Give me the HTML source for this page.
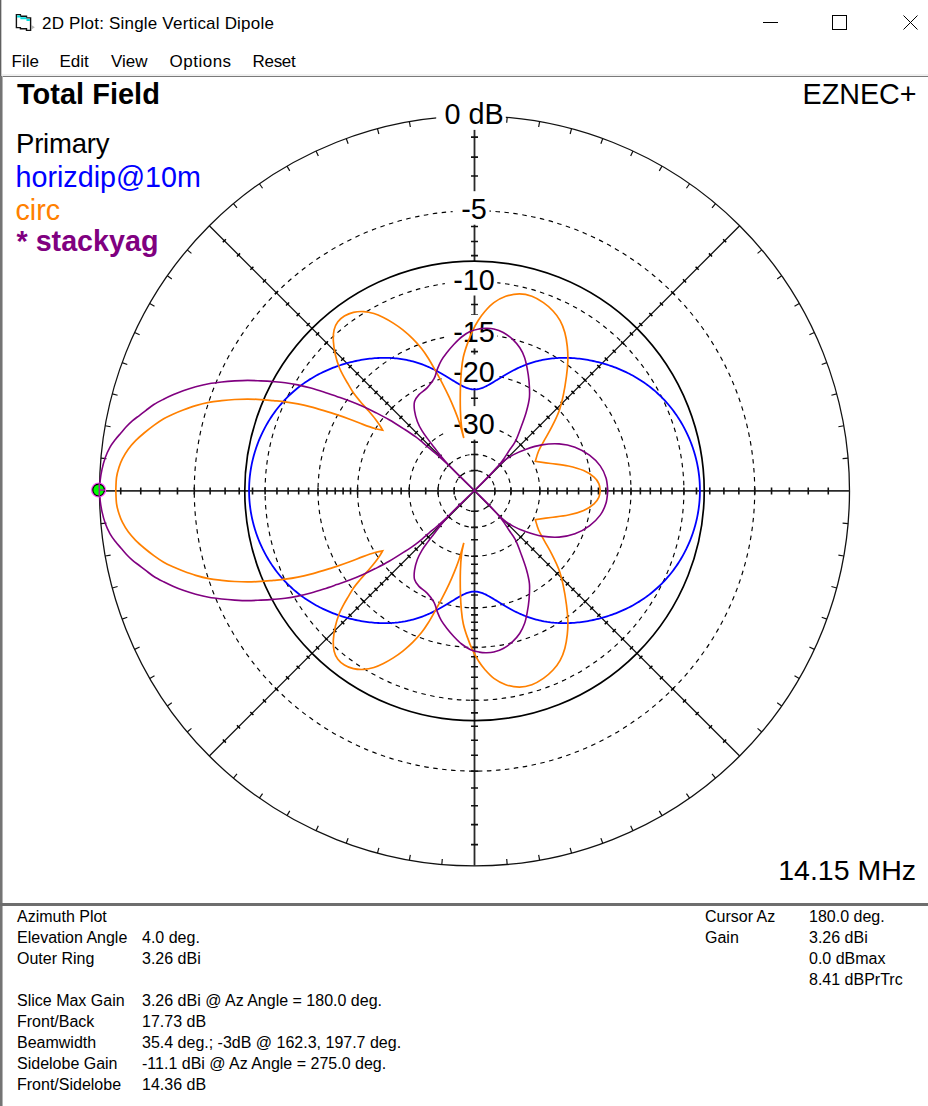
<!DOCTYPE html>
<html><head><meta charset="utf-8"><style>
html,body{margin:0;padding:0;background:#fff;}
body{width:928px;height:1106px;position:relative;overflow:hidden;font-family:"Liberation Sans",sans-serif;}
.t{position:absolute;white-space:nowrap;line-height:1;}
#lb{position:absolute;left:0;top:0;width:1px;height:1106px;background:#606060;border-right:1px solid #c8c8c8;}
#cb{position:absolute;left:0;top:76px;width:2px;height:1030px;background:#747474;border-right:1px solid #b4b4b4;}
#sep1{position:absolute;left:0;top:76px;width:928px;height:1px;background:#7a7a7a;}
#sep0{position:absolute;left:0;top:74px;width:928px;height:2px;background:#f0f0f0;}
#sep2{position:absolute;left:0;top:903px;width:928px;height:3px;background:#6e6e6e;}
svg{position:absolute;left:0;top:0;}
.info{font-size:16px;color:#000;}
</style></head><body>
<svg width="928" height="1106" viewBox="0 0 928 1106" font-family="Liberation Sans, sans-serif">
<circle cx="474.5" cy="490.9" r="280.22" fill="none" stroke="#000" stroke-width="1.15" stroke-dasharray="4.5 4.5"/>
<circle cx="474.5" cy="490.9" r="209.40" fill="none" stroke="#000" stroke-width="1.15" stroke-dasharray="4.5 4.5"/>
<circle cx="474.5" cy="490.9" r="156.48" fill="none" stroke="#000" stroke-width="1.15" stroke-dasharray="4.5 4.5"/>
<circle cx="474.5" cy="490.9" r="116.93" fill="none" stroke="#000" stroke-width="1.15" stroke-dasharray="4.5 4.5"/>
<circle cx="474.5" cy="490.9" r="65.30" fill="none" stroke="#000" stroke-width="1.15" stroke-dasharray="4.5 4.5"/>
<circle cx="474.5" cy="490.9" r="36.46" fill="none" stroke="#000" stroke-width="1.15" stroke-dasharray="4.5 4.5"/>
<circle cx="474.5" cy="490.9" r="20.36" fill="none" stroke="#000" stroke-width="1.15" stroke-dasharray="4.5 4.5"/>
<circle cx="474.5" cy="490.9" r="375.0" fill="none" stroke="#111" stroke-width="1.3"/>
<path d="M848.07 458.22L842.59 458.70M843.80 425.78L838.39 426.74M836.72 393.84L831.41 395.27M826.88 362.64L821.72 364.52M814.37 332.42L809.38 334.74M799.26 303.40L794.50 306.15M781.68 275.81L777.18 278.96M761.77 249.85L757.55 253.39M715.55 203.63L712.01 207.85M689.59 183.72L686.44 188.22M662.00 166.14L659.25 170.90M632.98 151.03L630.66 156.02M602.76 138.52L600.88 143.68M571.56 128.68L570.13 133.99M539.62 121.60L538.66 127.01M507.18 117.33L506.70 122.81M441.82 117.33L442.30 122.81M409.38 121.60L410.34 127.01M377.44 128.68L378.87 133.99M346.24 138.52L348.12 143.68M316.02 151.03L318.34 156.02M287.00 166.14L289.75 170.90M259.41 183.72L262.56 188.22M233.45 203.63L236.99 207.85M187.23 249.85L191.45 253.39M167.32 275.81L171.82 278.96M149.74 303.40L154.50 306.15M134.63 332.42L139.62 334.74M122.12 362.64L127.28 364.52M112.28 393.84L117.59 395.27M105.20 425.78L110.61 426.74M100.93 458.22L106.41 458.70M100.93 523.58L106.41 523.10M105.20 556.02L110.61 555.06M112.28 587.96L117.59 586.53M122.12 619.16L127.28 617.28M134.63 649.38L139.62 647.06M149.74 678.40L154.50 675.65M167.32 705.99L171.82 702.84M187.23 731.95L191.45 728.41M233.45 778.17L236.99 773.95M259.41 798.08L262.56 793.58M287.00 815.66L289.75 810.90M316.02 830.77L318.34 825.78M346.24 843.28L348.12 838.12M377.44 853.12L378.87 847.81M409.38 860.20L410.34 854.79M441.82 864.47L442.30 858.99M507.18 864.47L506.70 858.99M539.62 860.20L538.66 854.79M571.56 853.12L570.13 847.81M602.76 843.28L600.88 838.12M632.98 830.77L630.66 825.78M662.00 815.66L659.25 810.90M689.59 798.08L686.44 793.58M715.55 778.17L712.01 773.95M761.77 731.95L757.55 728.41M781.68 705.99L777.18 702.84M799.26 678.40L794.50 675.65M814.37 649.38L809.38 647.06M826.88 619.16L821.72 617.28M836.72 587.96L831.41 586.53M843.80 556.02L838.39 555.06M848.07 523.58L842.59 523.10" stroke="#111" stroke-width="1.2" fill="none"/>
<path d="M739.67 225.73L209.33 756.07M209.33 225.73L739.67 756.07" stroke="#111" stroke-width="1.3" fill="none"/>
<path d="M99.5 490.9H849.5M474.5 115.89999999999998V865.9" stroke="#2a2a2a" stroke-width="1.8" fill="none"/>
<path d="M828.27 487.40L828.27 494.40M471.00 137.13L478.00 137.13M120.73 494.40L120.73 487.40M478.00 844.67L471.00 844.67M808.25 487.40L808.25 494.40M471.00 157.15L478.00 157.15M140.75 494.40L140.75 487.40M478.00 824.65L471.00 824.65M789.36 487.40L789.36 494.40M471.00 176.04L478.00 176.04M159.64 494.40L159.64 487.40M478.00 805.76L471.00 805.76M771.54 487.40L771.54 494.40M471.00 193.86L478.00 193.86M177.46 494.40L177.46 487.40M478.00 787.94L471.00 787.94M754.72 487.40L754.72 494.40M471.00 210.68L478.00 210.68M194.28 494.40L194.28 487.40M478.00 771.12L471.00 771.12M738.86 487.40L738.86 494.40M471.00 226.54L478.00 226.54M210.14 494.40L210.14 487.40M478.00 755.26L471.00 755.26M723.90 487.40L723.90 494.40M471.00 241.50L478.00 241.50M225.10 494.40L225.10 487.40M478.00 740.30L471.00 740.30M709.78 487.40L709.78 494.40M471.00 255.62L478.00 255.62M239.22 494.40L239.22 487.40M478.00 726.18L471.00 726.18M696.47 487.40L696.47 494.40M471.00 268.93L478.00 268.93M252.53 494.40L252.53 487.40M478.00 712.87L471.00 712.87M683.90 487.40L683.90 494.40M471.00 281.50L478.00 281.50M265.10 494.40L265.10 487.40M478.00 700.30L471.00 700.30M672.05 487.40L672.05 494.40M471.00 293.35L478.00 293.35M276.95 494.40L276.95 487.40M478.00 688.45L471.00 688.45M660.87 487.40L660.87 494.40M471.00 304.53L478.00 304.53M288.13 494.40L288.13 487.40M478.00 677.27L471.00 677.27M650.32 487.40L650.32 494.40M471.00 315.08L478.00 315.08M298.68 494.40L298.68 487.40M478.00 666.72L471.00 666.72M640.37 487.40L640.37 494.40M471.00 325.03L478.00 325.03M308.63 494.40L308.63 487.40M478.00 656.77L471.00 656.77M630.98 487.40L630.98 494.40M471.00 334.42L478.00 334.42M318.02 494.40L318.02 487.40M478.00 647.38L471.00 647.38M622.12 487.40L622.12 494.40M471.00 343.28L478.00 343.28M326.88 494.40L326.88 487.40M478.00 638.52L471.00 638.52M613.77 487.40L613.77 494.40M471.00 351.63L478.00 351.63M335.23 494.40L335.23 487.40M478.00 630.17L471.00 630.17M605.88 487.40L605.88 494.40M471.00 359.52L478.00 359.52M343.12 494.40L343.12 487.40M478.00 622.28L471.00 622.28M598.45 487.40L598.45 494.40M471.00 366.95L478.00 366.95M350.55 494.40L350.55 487.40M478.00 614.85L471.00 614.85M591.43 487.40L591.43 494.40M471.00 373.97L478.00 373.97M357.57 494.40L357.57 487.40M478.00 607.83L471.00 607.83M578.57 487.40L578.57 494.40M471.00 386.83L478.00 386.83M370.43 494.40L370.43 487.40M478.00 594.97L471.00 594.97M567.12 487.40L567.12 494.40M471.00 398.28L478.00 398.28M381.88 494.40L381.88 487.40M478.00 583.52L471.00 583.52M556.93 487.40L556.93 494.40M471.00 408.47L478.00 408.47M392.07 494.40L392.07 487.40M478.00 573.33L471.00 573.33M547.87 487.40L547.87 494.40M471.00 417.53L478.00 417.53M401.13 494.40L401.13 487.40M478.00 564.27L471.00 564.27M539.80 487.40L539.80 494.40M471.00 425.60L478.00 425.60M409.20 494.40L409.20 487.40M478.00 556.20L471.00 556.20M523.29 487.40L523.29 494.40M471.00 442.11L478.00 442.11M425.71 494.40L425.71 487.40M478.00 539.69L471.00 539.69M510.96 487.40L510.96 494.40M471.00 454.44L478.00 454.44M438.04 494.40L438.04 487.40M478.00 527.36L471.00 527.36M494.86 487.40L494.86 494.40M471.00 470.54L478.00 470.54M454.14 494.40L454.14 487.40M478.00 511.26L471.00 511.26" stroke="#111" stroke-width="1.6" fill="none"/>
<path d="M723.10 239.19L726.21 242.30M222.79 242.30L225.90 239.19M225.90 742.61L222.79 739.50M726.21 739.50L723.10 742.61M708.94 253.35L712.05 256.46M236.95 256.46L240.06 253.35M240.06 728.45L236.95 725.34M712.05 725.34L708.94 728.45M695.58 266.71L698.69 269.82M250.31 269.82L253.42 266.71M253.42 715.09L250.31 711.98M698.69 711.98L695.58 715.09M682.98 279.31L686.09 282.42M262.91 282.42L266.02 279.31M266.02 702.49L262.91 699.38M686.09 699.38L682.98 702.49M671.09 291.20L674.20 294.31M274.80 294.31L277.91 291.20M277.91 690.60L274.80 687.49M674.20 687.49L671.09 690.60M659.88 302.41L662.99 305.52M286.01 305.52L289.12 302.41M289.12 679.39L286.01 676.28M662.99 676.28L659.88 679.39M649.30 312.99L652.41 316.10M296.59 316.10L299.70 312.99M299.70 668.81L296.59 665.70M652.41 665.70L649.30 668.81M639.31 322.97L642.43 326.09M306.57 326.09L309.69 322.97M309.69 658.83L306.57 655.71M642.43 655.71L639.31 658.83M629.90 332.39L633.01 335.50M315.99 335.50L319.10 332.39M319.10 649.41L315.99 646.30M633.01 646.30L629.90 649.41M621.01 341.27L624.13 344.39M324.87 344.39L327.99 341.27M327.99 640.53L324.87 637.41M624.13 637.41L621.01 640.53M612.63 349.66L615.74 352.77M333.26 352.77L336.37 349.66M336.37 632.14L333.26 629.03M615.74 629.03L612.63 632.14M604.73 357.56L607.84 360.67M341.16 360.67L344.27 357.56M344.27 624.24L341.16 621.13M607.84 621.13L604.73 624.24M597.27 365.02L600.38 368.13M348.62 368.13L351.73 365.02M351.73 616.78L348.62 613.67M600.38 613.67L597.27 616.78M590.23 372.06L593.34 375.17M355.66 375.17L358.77 372.06M358.77 609.74L355.66 606.63M593.34 606.63L590.23 609.74M583.59 378.70L586.70 381.81M362.30 381.81L365.41 378.70M365.41 603.10L362.30 599.99M586.70 599.99L583.59 603.10M577.33 384.96L580.44 388.07M368.56 388.07L371.67 384.96M371.67 596.84L368.56 593.73M580.44 593.73L577.33 596.84M571.42 390.87L574.53 393.98M374.47 393.98L377.58 390.87M377.58 590.93L374.47 587.82M574.53 587.82L571.42 590.93M565.85 396.44L568.96 399.55M380.04 399.55L383.15 396.44M383.15 585.36L380.04 582.25M568.96 582.25L565.85 585.36M560.59 401.70L563.70 404.81M385.30 404.81L388.41 401.70M388.41 580.10L385.30 576.99M563.70 576.99L560.59 580.10M555.63 406.66L558.74 409.77M390.26 409.77L393.37 406.66M393.37 575.14L390.26 572.03M558.74 572.03L555.63 575.14M546.53 415.76L549.64 418.87M399.36 418.87L402.47 415.76M402.47 566.04L399.36 562.93M549.64 562.93L546.53 566.04M538.44 423.85L541.55 426.96M407.45 426.96L410.56 423.85M410.56 557.95L407.45 554.84M541.55 554.84L538.44 557.95M531.23 431.06L534.34 434.17M414.66 434.17L417.77 431.06M417.77 550.74L414.66 547.63M534.34 547.63L531.23 550.74M524.82 437.47L527.93 440.58M421.07 440.58L424.18 437.47M424.18 544.33L421.07 541.22M527.93 541.22L524.82 544.33M519.12 443.17L522.23 446.28M426.77 446.28L429.88 443.17M429.88 538.63L426.77 535.52M522.23 535.52L519.12 538.63M507.45 454.84L510.56 457.95M438.44 457.95L441.55 454.84M441.55 526.96L438.44 523.85M510.56 523.85L507.45 526.96M498.73 463.56L501.84 466.67M447.16 466.67L450.27 463.56M450.27 518.24L447.16 515.13M501.84 515.13L498.73 518.24M487.34 474.95L490.45 478.06M458.55 478.06L461.66 474.95M461.66 506.85L458.55 503.74M490.45 503.74L487.34 506.85" stroke="#000" stroke-width="1.5" fill="none"/>
<rect x="436.2" y="96.4" width="69.6" height="33.5" fill="#fff"/>
<text x="474" y="123.9" text-anchor="middle" font-size="28.8" fill="#000">0 dB</text>
<rect x="452.6" y="191.2" width="36.9" height="33.5" fill="#fff"/>
<text x="474" y="218.7" text-anchor="middle" font-size="28.8" fill="#000">-5</text>
<rect x="444.8" y="262.0" width="52.5" height="33.5" fill="#fff"/>
<text x="474" y="289.5" text-anchor="middle" font-size="28.8" fill="#000">-10</text>
<rect x="444.8" y="314.9" width="52.5" height="33.5" fill="#fff"/>
<text x="474" y="342.4" text-anchor="middle" font-size="28.8" fill="#000">-15</text>
<rect x="444.8" y="354.5" width="52.5" height="33.5" fill="#fff"/>
<text x="474" y="382.0" text-anchor="middle" font-size="28.8" fill="#000">-20</text>
<rect x="444.8" y="406.1" width="52.5" height="33.5" fill="#fff"/>
<text x="474" y="433.6" text-anchor="middle" font-size="28.8" fill="#000">-30</text>
<circle cx="474.5" cy="490.9" r="229.73" fill="none" stroke="#000" stroke-width="1.7"/>
<path d="M699.92 490.50L699.91 488.53L699.86 486.57L699.79 484.60L699.69 482.64L699.55 480.67L699.39 478.71L699.20 476.76L698.98 474.80L698.73 472.85L698.45 470.91L698.14 468.97L697.80 467.03L697.44 465.10L697.05 463.17L696.62 461.26L696.18 459.35L695.70 457.44L695.19 455.55L694.66 453.66L694.10 451.78L693.51 449.91L692.90 448.05L692.26 446.20L691.59 444.36L690.90 442.53L690.18 440.71L689.43 438.90L688.66 437.10L687.87 435.32L687.04 433.55L686.20 431.79L685.32 430.05L684.43 428.32L683.51 426.60L682.56 424.90L681.59 423.21L680.60 421.54L679.58 419.88L678.54 418.25L677.48 416.62L676.39 415.02L675.28 413.43L674.14 411.86L672.99 410.31L671.81 408.77L670.61 407.26L669.39 405.76L668.14 404.29L666.88 402.83L665.59 401.39L664.28 399.98L662.95 398.59L661.60 397.21L660.24 395.86L658.85 394.53L657.44 393.23L656.01 391.95L654.57 390.69L653.11 389.45L651.63 388.23L650.13 387.04L648.62 385.88L647.09 384.74L645.54 383.62L643.99 382.53L642.41 381.46L640.82 380.41L639.22 379.39L637.61 378.40L635.98 377.43L634.34 376.48L632.70 375.56L631.04 374.67L629.37 373.80L627.69 372.95L626.01 372.13L624.31 371.33L622.61 370.56L620.91 369.81L619.19 369.09L617.48 368.39L615.75 367.71L614.03 367.06L612.30 366.43L610.56 365.82L608.83 365.24L607.09 364.68L605.35 364.14L603.61 363.63L601.87 363.13L600.13 362.66L598.38 362.21L596.64 361.79L594.90 361.38L593.16 361.00L591.43 360.64L589.69 360.30L587.96 359.98L586.22 359.69L584.49 359.41L582.77 359.16L581.04 358.93L579.32 358.72L577.60 358.53L575.89 358.37L574.18 358.22L572.47 358.10L570.77 358.00L569.06 357.93L567.37 357.87L565.67 357.84L563.98 357.84L562.30 357.85L560.62 357.89L558.94 357.96L557.27 358.04L555.60 358.16L553.94 358.29L552.28 358.46L550.63 358.64L548.98 358.86L547.34 359.09L545.71 359.36L544.08 359.64L542.46 359.96L540.84 360.30L539.24 360.66L537.64 361.05L536.05 361.46L534.47 361.90L532.90 362.36L531.33 362.85L529.78 363.36L528.24 363.89L526.71 364.45L525.20 365.02L523.69 365.62L522.20 366.23L520.72 366.87L519.26 367.52L517.81 368.19L516.38 368.87L514.96 369.57L513.56 370.28L512.18 371.00L510.81 371.73L509.46 372.47L508.13 373.21L506.82 373.96L505.52 374.72L504.25 375.47L502.99 376.22L501.76 376.97L500.54 377.72L499.34 378.46L498.16 379.19L497.00 379.90L495.86 380.61L494.74 381.30L493.64 381.98L492.55 382.63L491.48 383.27L490.43 383.88L489.40 384.47L488.38 385.04L487.38 385.57L486.40 386.08L485.42 386.56L484.47 387.00L483.52 387.41L482.58 387.79L481.66 388.12L480.74 388.43L479.84 388.69L478.94 388.91L478.04 389.10L477.15 389.24L476.27 389.34L475.38 389.41L474.50 389.43L473.62 389.41L472.73 389.34L471.85 389.24L470.96 389.10L470.06 388.91L469.16 388.69L468.26 388.43L467.34 388.12L466.42 387.79L465.48 387.41L464.53 387.00L463.58 386.56L462.60 386.08L461.62 385.57L460.62 385.04L459.60 384.47L458.57 383.88L457.52 383.27L456.45 382.63L455.36 381.98L454.26 381.30L453.14 380.61L452.00 379.90L450.84 379.19L449.66 378.46L448.46 377.72L447.24 376.97L446.01 376.22L444.75 375.47L443.48 374.72L442.18 373.96L440.87 373.21L439.54 372.47L438.19 371.73L436.82 371.00L435.44 370.28L434.04 369.57L432.62 368.87L431.19 368.19L429.74 367.52L428.28 366.87L426.80 366.23L425.31 365.62L423.80 365.02L422.29 364.45L420.76 363.89L419.22 363.36L417.67 362.85L416.10 362.36L414.53 361.90L412.95 361.46L411.36 361.05L409.76 360.66L408.16 360.30L406.54 359.96L404.92 359.64L403.29 359.36L401.66 359.09L400.02 358.86L398.37 358.64L396.72 358.46L395.06 358.29L393.40 358.16L391.73 358.04L390.06 357.96L388.38 357.89L386.70 357.85L385.02 357.84L383.33 357.84L381.63 357.87L379.94 357.93L378.23 358.00L376.53 358.10L374.82 358.22L373.11 358.37L371.40 358.53L369.68 358.72L367.96 358.93L366.23 359.16L364.51 359.41L362.78 359.69L361.04 359.98L359.31 360.30L357.57 360.64L355.84 361.00L354.10 361.38L352.36 361.79L350.62 362.21L348.87 362.66L347.13 363.13L345.39 363.63L343.65 364.14L341.91 364.68L340.17 365.24L338.44 365.82L336.70 366.43L334.97 367.06L333.25 367.71L331.52 368.39L329.81 369.09L328.09 369.81L326.39 370.56L324.69 371.33L322.99 372.13L321.31 372.95L319.63 373.80L317.96 374.67L316.30 375.56L314.66 376.48L313.02 377.43L311.39 378.40L309.78 379.39L308.18 380.41L306.59 381.46L305.01 382.53L303.46 383.62L301.91 384.74L300.38 385.88L298.87 387.04L297.37 388.23L295.89 389.45L294.43 390.69L292.99 391.95L291.56 393.23L290.15 394.53L288.76 395.86L287.40 397.21L286.05 398.59L284.72 399.98L283.41 401.39L282.12 402.83L280.86 404.29L279.61 405.76L278.39 407.26L277.19 408.77L276.01 410.31L274.86 411.86L273.72 413.43L272.61 415.02L271.52 416.62L270.46 418.25L269.42 419.88L268.40 421.54L267.41 423.21L266.44 424.90L265.49 426.60L264.57 428.32L263.68 430.05L262.80 431.79L261.96 433.55L261.13 435.32L260.34 437.10L259.57 438.90L258.82 440.71L258.10 442.53L257.41 444.36L256.74 446.20L256.10 448.05L255.49 449.91L254.90 451.78L254.34 453.66L253.81 455.55L253.30 457.44L252.82 459.35L252.38 461.26L251.95 463.17L251.56 465.10L251.20 467.03L250.86 468.97L250.55 470.91L250.27 472.85L250.02 474.80L249.80 476.76L249.61 478.71L249.45 480.67L249.31 482.64L249.21 484.60L249.14 486.57L249.09 488.53L249.08 490.50L249.09 492.47L249.14 494.43L249.21 496.40L249.31 498.36L249.45 500.33L249.61 502.29L249.80 504.24L250.02 506.20L250.27 508.15L250.55 510.09L250.86 512.03L251.20 513.97L251.56 515.90L251.95 517.83L252.38 519.74L252.82 521.65L253.30 523.56L253.81 525.45L254.34 527.34L254.90 529.22L255.49 531.09L256.10 532.95L256.74 534.80L257.41 536.64L258.10 538.47L258.82 540.29L259.57 542.10L260.34 543.90L261.13 545.68L261.96 547.45L262.80 549.21L263.68 550.95L264.57 552.68L265.49 554.40L266.44 556.10L267.41 557.79L268.40 559.46L269.42 561.12L270.46 562.75L271.52 564.38L272.61 565.98L273.72 567.57L274.86 569.14L276.01 570.69L277.19 572.23L278.39 573.74L279.61 575.24L280.86 576.71L282.12 578.17L283.41 579.61L284.72 581.02L286.05 582.41L287.40 583.79L288.76 585.14L290.15 586.47L291.56 587.77L292.99 589.05L294.43 590.31L295.89 591.55L297.37 592.77L298.87 593.96L300.38 595.12L301.91 596.26L303.46 597.38L305.01 598.47L306.59 599.54L308.18 600.59L309.78 601.61L311.39 602.60L313.02 603.57L314.66 604.52L316.30 605.44L317.96 606.33L319.63 607.20L321.31 608.05L322.99 608.87L324.69 609.67L326.39 610.44L328.09 611.19L329.81 611.91L331.52 612.61L333.25 613.29L334.97 613.94L336.70 614.57L338.44 615.18L340.17 615.76L341.91 616.32L343.65 616.86L345.39 617.37L347.13 617.87L348.87 618.34L350.62 618.79L352.36 619.21L354.10 619.62L355.84 620.00L357.57 620.36L359.31 620.70L361.04 621.02L362.78 621.31L364.51 621.59L366.23 621.84L367.96 622.07L369.68 622.28L371.40 622.47L373.11 622.63L374.82 622.78L376.53 622.90L378.23 623.00L379.94 623.07L381.63 623.13L383.33 623.16L385.02 623.16L386.70 623.15L388.38 623.11L390.06 623.04L391.73 622.96L393.40 622.84L395.06 622.71L396.72 622.54L398.37 622.36L400.02 622.14L401.66 621.91L403.29 621.64L404.92 621.36L406.54 621.04L408.16 620.70L409.76 620.34L411.36 619.95L412.95 619.54L414.53 619.10L416.10 618.64L417.67 618.15L419.22 617.64L420.76 617.11L422.29 616.55L423.80 615.98L425.31 615.38L426.80 614.77L428.28 614.13L429.74 613.48L431.19 612.81L432.62 612.13L434.04 611.43L435.44 610.72L436.82 610.00L438.19 609.27L439.54 608.53L440.87 607.79L442.18 607.04L443.48 606.28L444.75 605.53L446.01 604.78L447.24 604.03L448.46 603.28L449.66 602.54L450.84 601.81L452.00 601.10L453.14 600.39L454.26 599.70L455.36 599.02L456.45 598.37L457.52 597.73L458.57 597.12L459.60 596.53L460.62 595.96L461.62 595.43L462.60 594.92L463.58 594.44L464.53 594.00L465.48 593.59L466.42 593.21L467.34 592.88L468.26 592.57L469.16 592.31L470.06 592.09L470.96 591.90L471.85 591.76L472.73 591.66L473.62 591.59L474.50 591.57L475.38 591.59L476.27 591.66L477.15 591.76L478.04 591.90L478.94 592.09L479.84 592.31L480.74 592.57L481.66 592.88L482.58 593.21L483.52 593.59L484.47 594.00L485.42 594.44L486.40 594.92L487.38 595.43L488.38 595.96L489.40 596.53L490.43 597.12L491.48 597.73L492.55 598.37L493.64 599.02L494.74 599.70L495.86 600.39L497.00 601.10L498.16 601.81L499.34 602.54L500.54 603.28L501.76 604.03L502.99 604.78L504.25 605.53L505.52 606.28L506.82 607.04L508.13 607.79L509.46 608.53L510.81 609.27L512.18 610.00L513.56 610.72L514.96 611.43L516.38 612.13L517.81 612.81L519.26 613.48L520.72 614.13L522.20 614.77L523.69 615.38L525.20 615.98L526.71 616.55L528.24 617.11L529.78 617.64L531.33 618.15L532.90 618.64L534.47 619.10L536.05 619.54L537.64 619.95L539.24 620.34L540.84 620.70L542.46 621.04L544.08 621.36L545.71 621.64L547.34 621.91L548.98 622.14L550.63 622.36L552.28 622.54L553.94 622.71L555.60 622.84L557.27 622.96L558.94 623.04L560.62 623.11L562.30 623.15L563.98 623.16L565.67 623.16L567.37 623.13L569.06 623.07L570.77 623.00L572.47 622.90L574.18 622.78L575.89 622.63L577.60 622.47L579.32 622.28L581.04 622.07L582.77 621.84L584.49 621.59L586.22 621.31L587.96 621.02L589.69 620.70L591.43 620.36L593.16 620.00L594.90 619.62L596.64 619.21L598.38 618.79L600.13 618.34L601.87 617.87L603.61 617.37L605.35 616.86L607.09 616.32L608.83 615.76L610.56 615.18L612.30 614.57L614.03 613.94L615.75 613.29L617.48 612.61L619.19 611.91L620.91 611.19L622.61 610.44L624.31 609.67L626.01 608.87L627.69 608.05L629.37 607.20L631.04 606.33L632.70 605.44L634.34 604.52L635.98 603.57L637.61 602.60L639.22 601.61L640.82 600.59L642.41 599.54L643.99 598.47L645.54 597.38L647.09 596.26L648.62 595.12L650.13 593.96L651.63 592.77L653.11 591.55L654.57 590.31L656.01 589.05L657.44 587.77L658.85 586.47L660.24 585.14L661.60 583.79L662.95 582.41L664.28 581.02L665.59 579.61L666.88 578.17L668.14 576.71L669.39 575.24L670.61 573.74L671.81 572.23L672.99 570.69L674.14 569.14L675.28 567.57L676.39 565.98L677.48 564.38L678.54 562.75L679.58 561.12L680.60 559.46L681.59 557.79L682.56 556.10L683.51 554.40L684.43 552.68L685.32 550.95L686.20 549.21L687.04 547.45L687.87 545.68L688.66 543.90L689.43 542.10L690.18 540.29L690.90 538.47L691.59 536.64L692.26 534.80L692.90 532.95L693.51 531.09L694.10 529.22L694.66 527.34L695.19 525.45L695.70 523.56L696.18 521.65L696.62 519.74L697.05 517.83L697.44 515.90L697.80 513.97L698.14 512.03L698.45 510.09L698.73 508.15L698.98 506.20L699.20 504.24L699.39 502.29L699.55 500.33L699.69 498.36L699.79 496.40L699.86 494.43L699.91 492.47Z" fill="none" stroke="#0000ff" stroke-width="1.8"/>
<path d="M600.20 490.50C599.97 489.36 599.85 485.86 598.82 483.64C597.80 481.43 596.60 479.38 594.07 477.20C591.54 475.02 587.94 472.45 583.65 470.58C579.36 468.71 573.79 467.15 568.33 465.97C562.86 464.79 556.38 464.24 550.87 463.48C545.37 462.72 537.90 461.75 535.30 461.40C535.85 459.67 537.08 454.54 538.60 450.99C540.12 447.45 542.17 444.22 544.41 440.13C546.64 436.05 549.59 431.31 552.03 426.46C554.48 421.60 557.22 416.14 559.08 411.00C560.94 405.87 561.98 401.42 563.21 395.63C564.44 389.83 565.68 382.10 566.46 376.25C567.23 370.40 567.73 365.50 567.86 360.53C568.00 355.56 567.78 351.10 567.27 346.43C566.76 341.75 566.01 336.80 564.82 332.50C563.63 328.20 562.11 324.21 560.14 320.62C558.18 317.03 555.82 313.96 553.03 310.97C550.25 307.97 546.95 305.10 543.42 302.66C539.89 300.22 535.85 297.77 531.86 296.31C527.86 294.85 523.80 293.90 519.45 293.90C515.09 293.90 510.01 294.85 505.74 296.31C501.48 297.77 497.27 300.22 493.86 302.67C490.44 305.13 487.81 308.13 485.23 311.06C482.65 314.00 480.48 317.01 478.37 320.29C476.26 323.58 474.46 326.77 472.59 330.78C470.72 334.79 468.71 339.94 467.15 344.36C465.60 348.77 464.24 352.86 463.28 357.27C462.31 361.68 461.85 365.62 461.37 370.82C460.89 376.02 460.56 381.94 460.40 388.46C460.23 394.97 460.19 403.47 460.38 409.89C460.57 416.31 460.98 422.27 461.55 426.97C462.12 431.68 463.43 436.25 463.80 438.10C463.05 435.47 460.80 427.02 459.27 422.32C457.75 417.62 456.36 414.15 454.66 409.91C452.95 405.67 451.12 401.31 449.06 396.87C447.01 392.44 444.65 387.77 442.34 383.31C440.02 378.85 437.51 374.32 435.17 370.13C432.82 365.95 430.53 361.78 428.28 358.20C426.04 354.62 424.27 351.91 421.71 348.68C419.14 345.45 416.03 341.97 412.89 338.83C409.74 335.70 406.11 332.48 402.85 329.86C399.58 327.24 396.51 325.16 393.28 323.10C390.04 321.05 386.65 319.12 383.43 317.52C380.20 315.92 377.21 314.51 373.94 313.52C370.66 312.53 367.18 311.76 363.76 311.57C360.34 311.37 356.63 311.59 353.40 312.34C350.18 313.09 347.00 314.49 344.40 316.08C341.81 317.66 339.56 319.55 337.84 321.85C336.12 324.15 334.84 326.65 334.09 329.90C333.34 333.14 333.16 337.21 333.36 341.31C333.57 345.41 334.36 350.20 335.31 354.49C336.27 358.78 337.73 363.44 339.09 367.06C340.46 370.67 341.97 373.29 343.51 376.18C345.05 379.07 346.63 381.58 348.31 384.39C349.98 387.20 351.59 390.25 353.55 393.05C355.51 395.85 357.68 398.36 360.06 401.20C362.45 404.05 365.30 407.11 367.86 410.12C370.43 413.12 373.33 416.49 375.44 419.23C377.55 421.96 379.32 424.70 380.51 426.51C381.70 428.33 382.25 429.50 382.60 430.10C381.32 429.84 378.21 429.48 374.93 428.52C371.65 427.56 367.11 425.92 362.91 424.36C358.71 422.81 354.08 420.81 349.72 419.19C345.35 417.56 341.03 416.04 336.71 414.61C332.39 413.18 328.11 411.91 323.80 410.63C319.50 409.35 315.20 408.04 310.88 406.92C306.55 405.79 302.13 404.72 297.85 403.87C293.57 403.01 289.30 402.33 285.20 401.79C281.11 401.25 277.39 401.02 273.28 400.64C269.18 400.27 264.86 399.81 260.58 399.55C256.30 399.29 251.93 399.09 247.61 399.09C243.29 399.08 239.00 399.25 234.68 399.52C230.37 399.78 226.03 400.19 221.72 400.67C217.40 401.15 213.12 401.56 208.78 402.39C204.45 403.22 200.00 404.37 195.72 405.64C191.45 406.90 186.95 408.56 183.16 409.98C179.36 411.41 176.21 412.70 172.97 414.16C169.72 415.63 166.87 416.89 163.69 418.76C160.50 420.64 157.05 423.07 153.85 425.40C150.64 427.73 147.48 430.22 144.44 432.76C141.41 435.31 138.31 437.93 135.61 440.66C132.91 443.40 130.42 446.19 128.23 449.17C126.05 452.16 124.05 455.59 122.51 458.59C120.97 461.60 120.00 464.07 119.01 467.21C118.01 470.35 117.06 473.54 116.53 477.42C115.99 481.30 115.92 488.32 115.80 490.50C115.92 492.68 115.99 499.70 116.53 503.58C117.06 507.46 118.01 510.65 119.01 513.79C120.00 516.93 120.97 519.40 122.51 522.41C124.05 525.41 126.05 528.84 128.23 531.83C130.42 534.81 132.91 537.60 135.61 540.34C138.31 543.07 141.41 545.69 144.44 548.24C147.48 550.78 150.64 553.27 153.85 555.60C157.05 557.93 160.50 560.36 163.69 562.24C166.87 564.11 169.72 565.37 172.97 566.84C176.21 568.30 179.36 569.59 183.16 571.02C186.95 572.44 191.45 574.10 195.72 575.36C200.00 576.63 204.45 577.78 208.78 578.61C213.12 579.44 217.40 579.85 221.72 580.33C226.03 580.81 230.37 581.22 234.68 581.48C239.00 581.75 243.29 581.92 247.61 581.91C251.93 581.91 256.30 581.71 260.58 581.45C264.86 581.19 269.18 580.73 273.28 580.36C277.39 579.98 281.11 579.75 285.20 579.21C289.30 578.67 293.57 577.99 297.85 577.13C302.13 576.28 306.55 575.21 310.88 574.08C315.20 572.96 319.50 571.65 323.80 570.37C328.11 569.09 332.39 567.82 336.71 566.39C341.03 564.96 345.35 563.44 349.72 561.81C354.08 560.19 358.71 558.19 362.91 556.64C367.11 555.08 371.65 553.44 374.93 552.48C378.21 551.52 381.32 551.16 382.60 550.90C382.25 551.50 381.70 552.67 380.51 554.49C379.32 556.30 377.55 559.04 375.44 561.77C373.33 564.51 370.43 567.88 367.86 570.88C365.30 573.89 362.45 576.95 360.06 579.80C357.68 582.64 355.51 585.15 353.55 587.95C351.59 590.75 349.98 593.80 348.31 596.61C346.63 599.42 345.05 601.93 343.51 604.82C341.97 607.71 340.46 610.33 339.09 613.94C337.73 617.56 336.27 622.22 335.31 626.51C334.36 630.80 333.57 635.59 333.36 639.69C333.16 643.79 333.34 647.86 334.09 651.10C334.84 654.35 336.12 656.85 337.84 659.15C339.56 661.45 341.81 663.34 344.40 664.92C347.00 666.51 350.18 667.91 353.40 668.66C356.63 669.41 360.34 669.63 363.76 669.43C367.18 669.24 370.66 668.47 373.94 667.48C377.21 666.49 380.20 665.08 383.43 663.48C386.65 661.88 390.04 659.95 393.28 657.90C396.51 655.84 399.58 653.76 402.85 651.14C406.11 648.52 409.74 645.30 412.89 642.17C416.03 639.03 419.14 635.55 421.71 632.32C424.27 629.09 426.04 626.38 428.28 622.80C430.53 619.22 432.82 615.05 435.17 610.87C437.51 606.68 440.02 602.15 442.34 597.69C444.65 593.23 447.01 588.56 449.06 584.13C451.12 579.69 452.95 575.33 454.66 571.09C456.36 566.85 457.75 563.38 459.27 558.68C460.80 553.98 463.05 545.53 463.80 542.90C463.43 544.75 462.12 549.32 461.55 554.03C460.98 558.73 460.57 564.69 460.38 571.11C460.19 577.53 460.23 586.03 460.40 592.54C460.56 599.06 460.89 604.98 461.37 610.18C461.85 615.38 462.31 619.32 463.28 623.73C464.24 628.14 465.60 632.23 467.15 636.64C468.71 641.06 470.72 646.21 472.59 650.22C474.46 654.23 476.26 657.42 478.37 660.71C480.48 663.99 482.65 667.00 485.23 669.94C487.81 672.87 490.44 675.87 493.86 678.33C497.27 680.78 501.48 683.23 505.74 684.69C510.01 686.15 515.09 687.10 519.45 687.10C523.80 687.10 527.86 686.15 531.86 684.69C535.85 683.23 539.89 680.78 543.42 678.34C546.95 675.90 550.25 673.03 553.03 670.03C555.82 667.04 558.18 663.97 560.14 660.38C562.11 656.79 563.63 652.80 564.82 648.50C566.01 644.20 566.76 639.25 567.27 634.57C567.78 629.90 568.00 625.44 567.86 620.47C567.73 615.50 567.23 610.60 566.46 604.75C565.68 598.90 564.44 591.17 563.21 585.37C561.98 579.58 560.94 575.13 559.08 570.00C557.22 564.86 554.48 559.40 552.03 554.54C549.59 549.69 546.64 544.95 544.41 540.87C542.17 536.78 540.12 533.55 538.60 530.01C537.08 526.46 535.85 521.33 535.30 519.60C537.90 519.25 545.37 518.28 550.87 517.52C556.38 516.76 562.86 516.21 568.33 515.03C573.79 513.85 579.36 512.29 583.65 510.42C587.94 508.55 591.54 505.98 594.07 503.80C596.60 501.62 597.80 499.57 598.82 497.36C599.85 495.14 599.97 491.64 600.20 490.50Z" fill="none" stroke="#ff8000" stroke-width="1.7" stroke-linejoin="miter" stroke-miterlimit="20"/>
<path d="M607.80 490.50C607.51 488.41 607.30 482.06 606.04 477.95C604.77 473.85 602.99 469.67 600.23 465.87C597.47 462.07 593.69 458.26 589.48 455.14C585.27 452.02 580.04 449.03 574.98 447.15C569.91 445.27 564.63 444.25 559.09 443.87C553.55 443.48 547.22 443.96 541.73 444.84C536.24 445.73 530.94 447.48 526.16 449.15C521.38 450.82 517.11 452.61 513.05 454.87C508.99 457.13 505.83 459.18 501.78 462.70C497.72 466.23 493.24 471.41 488.70 476.04C484.15 480.67 476.87 488.09 474.50 490.50C476.91 488.11 484.44 480.94 488.94 476.18C493.43 471.42 498.14 466.15 501.47 461.96C504.79 457.76 506.56 454.44 508.87 451.02C511.18 447.59 513.36 445.23 515.34 441.39C517.31 437.56 518.91 432.89 520.72 428.02C522.53 423.16 524.76 417.33 526.21 412.21C527.66 407.10 528.96 402.46 529.43 397.33C529.90 392.19 529.43 386.29 529.03 381.40C528.64 376.51 527.84 371.99 527.08 367.96C526.32 363.93 525.66 360.57 524.45 357.20C523.24 353.83 521.80 350.74 519.82 347.76C517.85 344.78 515.37 341.88 512.61 339.34C509.84 336.80 506.36 334.24 503.23 332.52C500.10 330.80 496.68 329.71 493.83 329.01C490.98 328.31 488.58 328.34 486.15 328.32C483.71 328.30 481.79 328.39 479.19 328.90C476.60 329.40 473.50 329.98 470.56 331.33C467.62 332.68 464.39 334.76 461.56 337.00C458.72 339.24 456.04 342.15 453.57 344.78C451.11 347.41 448.81 350.14 446.75 352.78C444.70 355.41 442.79 357.90 441.24 360.59C439.69 363.27 438.64 365.87 437.45 368.89C436.25 371.90 435.74 375.56 434.05 378.69C432.36 381.81 429.83 384.98 427.32 387.64C424.81 390.29 421.10 392.28 418.98 394.59C416.85 396.91 415.31 398.84 414.57 401.51C413.82 404.18 414.06 407.31 414.52 410.62C414.99 413.94 416.11 418.06 417.34 421.41C418.58 424.75 420.20 427.76 421.93 430.67C423.67 433.57 425.71 436.11 427.73 438.86C429.76 441.62 432.05 444.51 434.08 447.17C436.11 449.83 437.53 451.89 439.91 454.81C442.28 457.74 444.93 461.04 448.33 464.72C451.74 468.41 455.95 472.63 460.32 476.93C464.68 481.23 472.14 488.24 474.50 490.50C472.16 488.24 464.86 481.23 460.46 476.93C456.05 472.62 451.94 468.36 448.08 464.67C444.22 460.98 440.45 457.53 437.31 454.78C434.17 452.03 431.68 450.23 429.22 448.18C426.76 446.12 424.85 444.39 422.56 442.47C420.26 440.55 418.47 438.88 415.46 436.68C412.44 434.48 408.84 432.10 404.45 429.27C400.07 426.44 394.00 422.51 389.15 419.70C384.30 416.89 379.79 414.66 375.36 412.42C370.93 410.18 366.85 408.16 362.57 406.26C358.29 404.36 354.00 402.64 349.69 401.00C345.38 399.36 341.03 397.92 336.72 396.42C332.40 394.92 328.11 393.40 323.80 392.01C319.49 390.62 315.20 389.26 310.88 388.08C306.55 386.89 302.13 385.78 297.85 384.89C293.57 384.00 289.30 383.28 285.20 382.74C281.11 382.20 277.39 381.96 273.28 381.65C269.18 381.35 264.86 381.11 260.58 380.91C256.30 380.70 251.93 380.41 247.61 380.41C243.29 380.41 239.00 380.66 234.68 380.92C230.37 381.17 226.03 381.49 221.72 381.95C217.40 382.41 213.12 382.88 208.78 383.68C204.45 384.48 200.00 385.61 195.72 386.77C191.45 387.93 186.95 389.32 183.16 390.66C179.36 391.99 176.22 393.35 172.96 394.77C169.71 396.19 166.80 397.56 163.62 399.18C160.43 400.81 156.83 402.61 153.85 404.51C150.87 406.41 148.17 408.76 145.74 410.59C143.32 412.42 141.51 413.84 139.32 415.51C137.13 417.17 134.73 418.74 132.59 420.57C130.46 422.40 128.40 424.47 126.49 426.50C124.58 428.53 122.96 430.59 121.11 432.75C119.27 434.91 117.26 437.05 115.41 439.45C113.57 441.86 111.75 444.12 110.05 447.16C108.35 450.21 106.58 454.04 105.23 457.74C103.89 461.44 102.85 465.47 101.99 469.34C101.14 473.21 100.51 477.43 100.10 480.95C99.68 484.48 99.60 488.91 99.50 490.50C99.60 492.09 99.68 496.52 100.10 500.05C100.51 503.57 101.14 507.79 101.99 511.66C102.85 515.53 103.89 519.56 105.23 523.26C106.58 526.96 108.35 530.79 110.05 533.84C111.75 536.88 113.57 539.14 115.41 541.55C117.26 543.95 119.27 546.09 121.11 548.25C122.96 550.41 124.58 552.47 126.49 554.50C128.40 556.53 130.46 558.60 132.59 560.43C134.73 562.26 137.13 563.83 139.32 565.49C141.51 567.16 143.32 568.58 145.74 570.41C148.17 572.24 150.87 574.59 153.85 576.49C156.83 578.39 160.43 580.19 163.62 581.82C166.80 583.44 169.71 584.81 172.96 586.23C176.22 587.65 179.36 589.01 183.16 590.34C186.95 591.68 191.45 593.07 195.72 594.23C200.00 595.39 204.45 596.52 208.78 597.32C213.12 598.12 217.40 598.59 221.72 599.05C226.03 599.51 230.37 599.83 234.68 600.08C239.00 600.34 243.29 600.59 247.61 600.59C251.93 600.59 256.30 600.30 260.58 600.09C264.86 599.89 269.18 599.65 273.28 599.35C277.39 599.04 281.11 598.80 285.20 598.26C289.30 597.72 293.57 597.00 297.85 596.11C302.13 595.22 306.55 594.11 310.88 592.92C315.20 591.74 319.49 590.38 323.80 588.99C328.11 587.60 332.40 586.08 336.72 584.58C341.03 583.08 345.38 581.64 349.69 580.00C354.00 578.36 358.29 576.64 362.57 574.74C366.85 572.84 370.93 570.82 375.36 568.58C379.79 566.34 384.30 564.11 389.15 561.30C394.00 558.49 400.07 554.56 404.45 551.73C408.84 548.90 412.44 546.52 415.46 544.32C418.47 542.12 420.26 540.45 422.56 538.53C424.85 536.61 426.76 534.88 429.22 532.82C431.68 530.77 434.17 528.97 437.31 526.22C440.45 523.47 444.22 520.02 448.08 516.33C451.94 512.64 456.05 508.38 460.46 504.07C464.86 499.77 472.16 492.76 474.50 490.50C472.14 492.76 464.68 499.77 460.32 504.07C455.95 508.37 451.74 512.59 448.33 516.28C444.93 519.96 442.28 523.26 439.91 526.19C437.53 529.11 436.11 531.17 434.08 533.83C432.05 536.49 429.76 539.38 427.73 542.14C425.71 544.89 423.67 547.43 421.93 550.33C420.20 553.24 418.58 556.25 417.34 559.59C416.11 562.94 414.99 567.06 414.52 570.38C414.06 573.69 413.82 576.82 414.57 579.49C415.31 582.16 416.85 584.09 418.98 586.41C421.10 588.72 424.81 590.71 427.32 593.36C429.83 596.02 432.36 599.19 434.05 602.31C435.74 605.44 436.25 609.10 437.45 612.11C438.64 615.13 439.69 617.73 441.24 620.41C442.79 623.10 444.70 625.59 446.75 628.22C448.81 630.86 451.11 633.59 453.57 636.22C456.04 638.85 458.72 641.76 461.56 644.00C464.39 646.24 467.62 648.32 470.56 649.67C473.50 651.02 476.60 651.60 479.19 652.10C481.79 652.61 483.71 652.70 486.15 652.68C488.58 652.66 490.98 652.69 493.83 651.99C496.68 651.29 500.10 650.20 503.23 648.48C506.36 646.76 509.84 644.20 512.61 641.66C515.37 639.12 517.85 636.22 519.82 633.24C521.80 630.26 523.24 627.17 524.45 623.80C525.66 620.43 526.32 617.07 527.08 613.04C527.84 609.01 528.64 604.49 529.03 599.60C529.43 594.71 529.90 588.81 529.43 583.67C528.96 578.54 527.66 573.90 526.21 568.79C524.76 563.67 522.53 557.84 520.72 552.98C518.91 548.11 517.31 543.44 515.34 539.61C513.36 535.77 511.18 533.41 508.87 529.98C506.56 526.56 504.79 523.24 501.47 519.04C498.14 514.85 493.43 509.58 488.94 504.82C484.44 500.06 476.91 492.89 474.50 490.50C476.87 492.91 484.15 500.33 488.70 504.96C493.24 509.59 497.72 514.77 501.78 518.30C505.83 521.82 508.99 523.87 513.05 526.13C517.11 528.39 521.38 530.18 526.16 531.85C530.94 533.52 536.24 535.27 541.73 536.16C547.22 537.04 553.55 537.52 559.09 537.13C564.63 536.75 569.91 535.73 574.98 533.85C580.04 531.97 585.27 528.98 589.48 525.86C593.69 522.74 597.47 518.93 600.23 515.13C602.99 511.33 604.77 507.15 606.04 503.05C607.30 498.94 607.51 492.59 607.80 490.50Z" fill="none" stroke="#800080" stroke-width="1.6" stroke-linejoin="miter" stroke-miterlimit="20"/>
<circle cx="98.6" cy="490" r="7" fill="none" stroke="#ff40ff" stroke-width="1.2"/><circle cx="98.6" cy="490" r="5.8" fill="#00ff00" stroke="#000" stroke-width="1.2"/><path d="M99.3 483V497M99.3 490H105" stroke="#a020a0" stroke-width="1.5"/>
</svg>
<div id="sep0"></div><div id="sep1"></div><div id="lb"></div><div id="cb"></div><div id="sep2"></div>
<!-- title bar -->
<svg width="928" height="46" viewBox="0 0 928 46" style="left:0;top:0">
  <path d="M16.4 14.6H20.4V16.2H26.5V17.9H30.6V30.4H26.5V28.7H20.4V27.6H16.4Z" stroke="#111" stroke-width="1.4" fill="#fff"/>
  <path d="M17.1 16.6H20.4M20.4 18.3H26.5M26.5 20H29.9" stroke="#00dede" stroke-width="2"/>
  <path d="M31.3 25L34.8 27.3L31.3 29.5Z" fill="#999" opacity=".7"/>
  <path d="M763 22.5H778" stroke="#000" stroke-width="1"/>
  <rect x="832.5" y="15.5" width="14" height="14" fill="none" stroke="#000" stroke-width="1"/>
  <path d="M903.5 15.5L917.5 29.5M917.5 15.5L903.5 29.5" stroke="#000" stroke-width="1"/>
</svg>
<div class="t" style="left:42px;top:14.8px;font-size:17px;letter-spacing:0.2px;color:#000">2D Plot: Single Vertical Dipole</div>
<div class="t" style="left:11.5px;top:52.5px;font-size:17px;color:#000">File</div>
<div class="t" style="left:59.5px;top:52.5px;font-size:17px;color:#000">Edit</div>
<div class="t" style="left:111px;top:52.5px;font-size:17px;color:#000">View</div>
<div class="t" style="left:169.5px;top:52.5px;letter-spacing:0.5px;font-size:17px;color:#000">Options</div>
<div class="t" style="left:252.5px;top:52.5px;letter-spacing:-0.3px;font-size:17px;color:#000">Reset</div>
<!-- plot texts -->
<div class="t" style="left:17px;top:80px;font-size:29px;font-weight:bold;color:#000">Total Field</div>
<div class="t" style="right:11.5px;top:80px;font-size:28.7px;color:#000">EZNEC+</div>
<div class="t" style="left:16px;top:129.5px;font-size:27.5px;letter-spacing:-0.2px;color:#000">Primary</div>
<div class="t" style="left:15.5px;top:162.5px;font-size:28.7px;color:#0000ff">horizdip@10m</div>
<div class="t" style="left:15.5px;top:195.5px;font-size:28.7px;color:#ff8000">circ</div>
<div class="t" style="left:16.5px;top:227px;font-size:28.7px;font-weight:bold;color:#800080">* stackyag</div>
<div class="t" style="right:12px;top:856px;font-size:28.5px;color:#000">14.15 MHz</div>
<!-- info -->
<div class="t info" style="left:17px;top:909px">Azimuth Plot</div>
<div class="t info" style="left:17px;top:930px">Elevation Angle</div>
<div class="t info" style="left:142px;top:930px">4.0 deg.</div>
<div class="t info" style="left:17px;top:951px">Outer Ring</div>
<div class="t info" style="left:142px;top:951px">3.26 dBi</div>
<div class="t info" style="left:17px;top:993px">Slice Max Gain</div>
<div class="t info" style="left:142px;top:993px">3.26 dBi @ Az Angle = 180.0 deg.</div>
<div class="t info" style="left:17px;top:1014px">Front/Back</div>
<div class="t info" style="left:142px;top:1014px">17.73 dB</div>
<div class="t info" style="left:17px;top:1035px">Beamwidth</div>
<div class="t info" style="left:142px;top:1035px">35.4 deg.; -3dB @ 162.3, 197.7 deg.</div>
<div class="t info" style="left:17px;top:1056px">Sidelobe Gain</div>
<div class="t info" style="left:142px;top:1056px">-11.1 dBi @ Az Angle = 275.0 deg.</div>
<div class="t info" style="left:17px;top:1077px">Front/Sidelobe</div>
<div class="t info" style="left:142px;top:1077px">14.36 dB</div>
<div class="t info" style="left:705px;top:909px">Cursor Az</div>
<div class="t info" style="left:809px;top:909px">180.0 deg.</div>
<div class="t info" style="left:705px;top:930px">Gain</div>
<div class="t info" style="left:809px;top:930px">3.26 dBi</div>
<div class="t info" style="left:809px;top:951px">0.0 dBmax</div>
<div class="t info" style="left:809px;top:972px">8.41 dBPrTrc</div>
</body></html>
